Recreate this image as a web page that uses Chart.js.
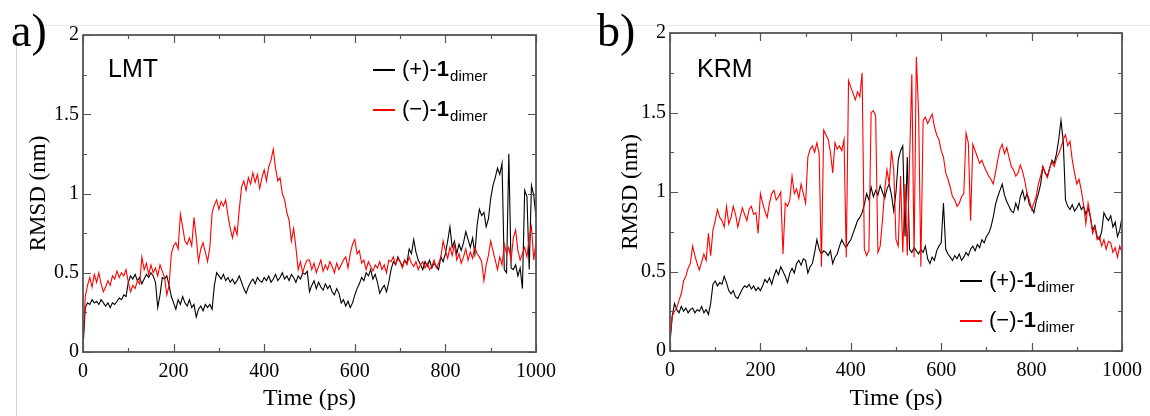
<!DOCTYPE html>
<html>
<head>
<meta charset="utf-8">
<script src="https://cdn.jsdelivr.net/npm/chart.js@4.4.0/dist/chart.umd.min.js"></script>
<style>
  html, body { margin: 0; padding: 0; background: #fff; }
  #wrap { position: relative; width: 1150px; height: 416px; overflow: hidden; }
  .panel { position: absolute; top: 0; width: 575px; height: 416px; }
  #panelA { left: 0; }
  #panelB { left: 575px; }
  .rule-h { position: absolute; left: 43px; right: 0; top: 25px; height: 1px; background: #e8e8e8; }
  .rule-v { position: absolute; left: 16px; top: 42px; bottom: 0; width: 1px; background: #d4d4d4; }
</style>
</head>
<body>
<div id="wrap">
  <div class="rule-h"></div>
  <div class="rule-v"></div>
  <canvas id="panelA" class="panel" width="575" height="416"></canvas>
  <canvas id="panelB" class="panel" width="575" height="416"></canvas>
</div>
<script>
// time axis: one sample every 5 ps, 0..1000 ps
var timeStepPs = 5
var timePs = Array.from({ length: 201 }, function (_, i) { return i * timeStepPs })

var xTicks = [0, 200, 400, 600, 800, 1000]
var yTicks = [0, 0.5, 1, 1.5, 2]
var seriesNames = ['(+)-', '(\u2212)-']

// a) LMT, (+)-1 dimer (black)
var lmtPlus = [
  0.02, 0.28, 0.31, 0.30, 0.33, 0.31, 0.32, 0.30, 0.33, 0.31,
  0.29, 0.31, 0.28, 0.31, 0.30, 0.32, 0.34, 0.33, 0.36, 0.35,
  0.44, 0.48, 0.46, 0.49, 0.45, 0.47, 0.43, 0.46, 0.49, 0.47,
  0.50, 0.48, 0.44, 0.28, 0.36, 0.47, 0.46, 0.48, 0.42, 0.35,
  0.31, 0.27, 0.33, 0.30, 0.35, 0.31, 0.29, 0.33, 0.28, 0.30,
  0.22, 0.27, 0.29, 0.26, 0.30, 0.28, 0.30, 0.27, 0.42, 0.50,
  0.48, 0.46, 0.49, 0.45, 0.47, 0.44, 0.46, 0.43, 0.45, 0.48,
  0.44, 0.40, 0.37, 0.41, 0.44, 0.46, 0.43, 0.47, 0.45, 0.44,
  0.47, 0.45, 0.48, 0.44, 0.46, 0.49, 0.45, 0.47, 0.50, 0.46,
  0.48, 0.45, 0.49, 0.47, 0.44, 0.48, 0.46, 0.50, 0.49, 0.51,
  0.38, 0.42, 0.45, 0.40, 0.44, 0.41, 0.39, 0.43, 0.40, 0.42,
  0.38, 0.36, 0.40, 0.37, 0.31, 0.33, 0.29, 0.32, 0.28, 0.31,
  0.36, 0.40, 0.43, 0.47, 0.45, 0.50, 0.48, 0.52, 0.46, 0.49,
  0.44, 0.37, 0.40, 0.42, 0.38, 0.44, 0.52, 0.57, 0.55, 0.60,
  0.57, 0.54, 0.58, 0.56, 0.65, 0.62, 0.71, 0.63, 0.58, 0.55,
  0.52, 0.57, 0.54, 0.58, 0.53, 0.56, 0.54, 0.52, 0.60, 0.57,
  0.62, 0.70, 0.79, 0.66, 0.70, 0.62, 0.68, 0.64, 0.69, 0.76,
  0.71, 0.66, 0.72, 0.62, 0.80, 0.90, 0.86, 0.88, 0.79, 0.84,
  0.97, 1.05, 1.10, 1.16, 1.12, 1.19, 0.52, 0.50, 1.25, 0.53,
  0.52, 0.55, 0.48, 0.53, 0.40, 1.02, 0.98, 0.52, 1.05, 0.99,
  0.85
]

// a) LMT, (-)-1 dimer (red)
var lmtMinus = [
  0.05, 0.35, 0.42, 0.47, 0.41, 0.49, 0.44, 0.50, 0.43, 0.38,
  0.41, 0.45, 0.42, 0.48, 0.46, 0.51, 0.47, 0.50, 0.48, 0.52,
  0.44, 0.38, 0.42, 0.40, 0.45, 0.43, 0.60, 0.52, 0.56, 0.49,
  0.55, 0.50, 0.53, 0.48, 0.55, 0.51, 0.47, 0.36, 0.42, 0.62,
  0.67, 0.69, 0.65, 0.87, 0.79, 0.70, 0.68, 0.72, 0.67, 0.85,
  0.72, 0.57, 0.65, 0.69, 0.63, 0.57, 0.66, 0.88, 0.93, 0.96,
  0.90, 0.95, 0.92, 0.96, 0.86, 0.78, 0.72, 0.79, 0.74, 0.90,
  1.04, 1.08, 1.02, 1.10, 1.06, 1.13, 1.07, 1.12, 1.03, 1.10,
  1.15, 1.08, 1.17, 1.21, 1.28, 1.16, 1.08, 1.10, 1.00, 0.96,
  0.88, 0.83, 0.70, 0.78, 0.66, 0.52, 0.57, 0.50, 0.55, 0.58,
  0.58, 0.52, 0.56, 0.50, 0.54, 0.58, 0.51, 0.55, 0.52, 0.57,
  0.54, 0.50, 0.56, 0.52, 0.55, 0.58, 0.60, 0.53, 0.62, 0.68,
  0.71, 0.62, 0.64, 0.56, 0.58, 0.52, 0.57, 0.54, 0.51, 0.55,
  0.53, 0.57, 0.52, 0.55, 0.50, 0.58, 0.57, 0.60, 0.55, 0.59,
  0.57, 0.53, 0.58, 0.55, 0.60, 0.56, 0.54, 0.57, 0.52, 0.55,
  0.57, 0.53, 0.56, 0.52, 0.54, 0.58, 0.53, 0.56, 0.60, 0.70,
  0.64, 0.59, 0.66, 0.61, 0.68, 0.58, 0.62, 0.56, 0.60, 0.65,
  0.58, 0.63, 0.59, 0.66, 0.62, 0.60, 0.57, 0.45, 0.55, 0.61,
  0.70, 0.64, 0.58, 0.52, 0.60, 0.55, 0.68, 0.62, 0.66, 0.58,
  0.72, 0.77, 0.64, 0.58, 0.62, 0.66, 0.60, 0.72, 0.79, 0.58,
  0.70
]

// b) KRM, (+)-1 dimer (black)
var krmPlus = [
  0.05, 0.22, 0.30, 0.26, 0.24, 0.28, 0.25, 0.27, 0.24, 0.26,
  0.27, 0.24, 0.26, 0.25, 0.28, 0.24, 0.26, 0.23, 0.30, 0.42,
  0.44, 0.41, 0.43, 0.42, 0.47, 0.43, 0.38, 0.36, 0.38, 0.34,
  0.33, 0.36, 0.39, 0.41, 0.40, 0.42, 0.39, 0.41, 0.38, 0.40,
  0.38, 0.41, 0.45, 0.43, 0.46, 0.42, 0.47, 0.51, 0.48, 0.53,
  0.50, 0.47, 0.43, 0.49, 0.52, 0.49, 0.55, 0.57, 0.54, 0.58,
  0.57, 0.49, 0.53, 0.55, 0.62, 0.70, 0.64, 0.61, 0.63, 0.62,
  0.60, 0.63, 0.55, 0.59, 0.61, 0.66, 0.70, 0.67, 0.65, 0.68,
  0.70, 0.74, 0.78, 0.82, 0.84, 0.87, 0.92, 0.99, 0.95, 1.03,
  0.97, 1.01, 0.98, 1.04, 1.00, 0.96, 1.02, 1.05, 0.98, 0.88,
  1.00, 1.20, 1.26, 1.29, 0.72, 1.22, 0.64, 0.62, 0.65, 0.63,
  0.61, 0.64, 0.62, 0.66, 0.58, 0.55, 0.59, 0.57, 0.63, 0.66,
  0.68, 0.93, 0.64, 0.61, 0.59, 0.57, 0.60, 0.58, 0.61, 0.57,
  0.59, 0.62, 0.60, 0.64, 0.66, 0.63, 0.67, 0.65, 0.70, 0.68,
  0.72, 0.74, 0.78, 0.84, 0.92, 0.97, 1.01, 1.05, 0.98, 0.94,
  0.91, 0.88, 0.87, 0.93, 0.89, 0.97, 1.01, 0.95, 0.99, 0.92,
  0.90, 0.87, 0.94, 0.99, 1.05, 1.16, 1.12, 1.10, 1.15, 1.20,
  1.18, 1.24, 1.33, 1.45, 1.32, 0.95, 0.91, 0.89, 0.92, 0.88,
  0.90, 0.93, 0.89, 0.91, 0.86, 0.90, 0.84, 0.76, 0.79, 0.72,
  0.70, 0.75, 0.87, 0.84, 0.82, 0.85, 0.78, 0.81, 0.72, 0.76,
  0.84
]

// b) KRM, (-)-1 dimer (red)
var krmMinus = [
  0.08, 0.22, 0.25, 0.27, 0.32, 0.36, 0.44, 0.47, 0.52, 0.55,
  0.66, 0.60, 0.55, 0.51, 0.56, 0.61, 0.57, 0.74, 0.60, 0.76,
  0.82, 0.89, 0.84, 0.82, 0.78, 0.91, 0.80, 0.84, 0.91, 0.86,
  0.78, 0.84, 0.90, 0.86, 0.82, 0.89, 0.91, 0.86, 0.87, 0.74,
  0.99, 0.93, 0.88, 0.84, 0.93, 0.99, 1.01, 0.95, 0.97, 1.00,
  0.61, 0.93, 0.91, 0.95, 1.10, 0.99, 1.02, 0.96, 1.05, 0.99,
  0.93, 1.22, 1.27, 1.29, 1.25, 1.31, 1.24, 0.53, 1.39, 1.36,
  1.33, 1.25, 1.12, 1.31, 1.27, 1.29, 1.26, 1.33, 0.59, 1.70,
  1.66, 1.62, 1.58, 1.63, 1.60, 1.75, 0.64, 0.60, 0.63, 1.50,
  1.51, 1.48, 0.62, 0.66, 0.82, 1.01, 1.14, 1.05, 1.26, 1.14,
  0.70, 0.66, 1.10, 0.62, 1.05, 0.60, 1.20, 1.74, 0.59, 1.85,
  1.50, 0.53, 1.45, 1.47, 1.43, 1.46, 1.49, 1.41, 1.36, 1.33,
  1.26, 1.22, 1.12, 1.08, 1.03, 0.97, 0.95, 0.91, 0.93, 0.97,
  0.99, 1.37, 1.31, 0.82, 1.30, 1.26, 1.22, 1.18, 1.20, 1.16,
  1.13, 1.10, 1.08, 1.05, 1.12, 1.20, 1.27, 1.30, 1.24, 1.28,
  1.22, 1.16, 1.14, 1.10, 1.12, 1.17, 1.13, 1.07, 0.99, 0.95,
  0.89, 0.93, 0.97, 1.05, 1.10, 1.16, 1.12, 1.09, 1.15, 1.19,
  1.16, 1.21, 1.24, 1.28, 1.33, 1.36, 1.29, 1.32, 1.20, 1.12,
  1.05, 1.08, 1.01, 0.92, 0.80, 0.93, 0.85, 0.74, 0.78, 0.70,
  0.72, 0.66, 0.70, 0.64, 0.69, 0.68, 0.62, 0.65, 0.59, 0.66,
  0.62
]

var serif = 'Liberation Serif, Times New Roman, serif'
var sans = 'Liberation Sans, Arial, sans-serif'

// frame, inward ticks on all four sides, labels and legend
var decorPlugin = {
  id: 'decor',
  afterDraw: function (chart, args, o) {
    var ctx = chart.ctx
    var a = chart.chartArea
    var x = chart.scales.x
    var y = chart.scales.y
    ctx.save()
    ctx.strokeStyle = '#555'
    ctx.lineWidth = 1.2
    ctx.beginPath()
    for (var t = 0; t <= 1000; t += 100) {
      var px = Math.round(x.getPixelForValue(t)) + 0.5
      var len = t % 200 === 0 ? 8 : 4
      ctx.moveTo(px, a.bottom); ctx.lineTo(px, a.bottom - len)
      ctx.moveTo(px, a.top); ctx.lineTo(px, a.top + len)
    }
    for (var i = 0; i <= 8; i++) {
      var py = Math.round(y.getPixelForValue(i * 0.25)) + 0.5
      var l2 = i % 2 === 0 ? 8 : 4
      ctx.moveTo(a.left, py); ctx.lineTo(a.left + l2, py)
      ctx.moveTo(a.right, py); ctx.lineTo(a.right - l2, py)
    }
    ctx.stroke()
    ctx.lineWidth = 1.8
    ctx.strokeRect(a.left, a.top, a.right - a.left, a.bottom - a.top)

    ctx.fillStyle = '#000'
    ctx.textBaseline = 'alphabetic'
    ctx.textAlign = 'left'
    ctx.font = '46px ' + serif
    ctx.fillText(o.panel, o.panelX, 46)
    ctx.font = '25px ' + sans
    ctx.fillText(o.tag, o.tagX, 77)

    var colors = ['#000000', '#ff0000']
    for (var k = 0; k < 2; k++) {
      var base = o.legY + k * 40
      ctx.strokeStyle = colors[k]
      ctx.lineWidth = 2
      ctx.beginPath()
      ctx.moveTo(o.legX, base - 6)
      ctx.lineTo(o.legX + 22, base - 6)
      ctx.stroke()
      var tx = o.legX + 29
      ctx.font = '22px ' + sans
      ctx.fillText(seriesNames[k], tx, base)
      tx += ctx.measureText(seriesNames[k]).width
      ctx.font = 'bold 22px ' + sans
      ctx.fillText('1', tx, base)
      tx += ctx.measureText('1').width + 1
      ctx.font = '15px ' + sans
      ctx.fillText('dimer', tx, base + 5)
    }
    ctx.restore()
  }
}

function makePanel (id, plus, minus, p) {
  return new Chart(document.getElementById(id), {
    type: 'line',
    data: {
      labels: timePs,
      datasets: [
        { label: 'minus', data: minus, borderColor: '#ff0000', borderWidth: 1.1, pointRadius: 0, order: 0 },
        { label: 'plus', data: plus, borderColor: '#000000', borderWidth: 1.1, pointRadius: 0, order: 1 }
      ]
    },
    options: {
      responsive: false,
      animation: false,
      events: [],
      layout: { padding: { left: 0, top: p.top, right: p.right, bottom: 0 } },
      scales: {
        x: {
          type: 'linear',
          min: 0,
          max: 1000,
          afterFit: function (s) { s.height = p.xh },
          afterBuildTicks: function (s) { s.ticks = xTicks.map(function (v) { return { value: v } }) },
          grid: { display: false, drawTicks: false },
          border: { display: false },
          ticks: { color: '#000', padding: 8, maxRotation: 0, font: { family: serif, size: 20 }, callback: function (v) { return String(v) } },
          title: { display: true, text: 'Time (ps)', color: '#000', padding: { top: 0, bottom: 3 }, font: { family: serif, size: 24 } }
        },
        y: {
          type: 'linear',
          min: 0,
          max: 2,
          afterFit: function (s) { s.width = p.yw },
          afterBuildTicks: function (s) { s.ticks = yTicks.map(function (v) { return { value: v } }) },
          grid: { display: false, drawTicks: false },
          border: { display: false },
          ticks: { color: '#000', padding: 4, font: { family: serif, size: 20 }, callback: function (v) { return String(v) } },
          title: { display: true, text: 'RMSD (nm)', color: '#000', padding: { top: p.ytp, bottom: 0 }, font: { family: serif, size: 23 } }
        }
      },
      plugins: {
        legend: { display: false },
        tooltip: { enabled: false },
        decor: p.decor
      }
    },
    plugins: [decorPlugin]
  })
}

makePanel('panelA', lmtPlus, lmtMinus, {
  top: 35, right: 39, xh: 64, yw: 83, ytp: 25,
  decor: { panel: 'a)', panelX: 11, tag: 'LMT', tagX: 108, legX: 373, legY: 76 }
})
makePanel('panelB', krmPlus, krmMinus, {
  top: 33, right: 27, xh: 65, yw: 95, ytp: 42,
  decor: { panel: 'b)', panelX: 22, tag: 'KRM', tagX: 122, legX: 385, legY: 287 }
})
</script>
</body>
</html>
